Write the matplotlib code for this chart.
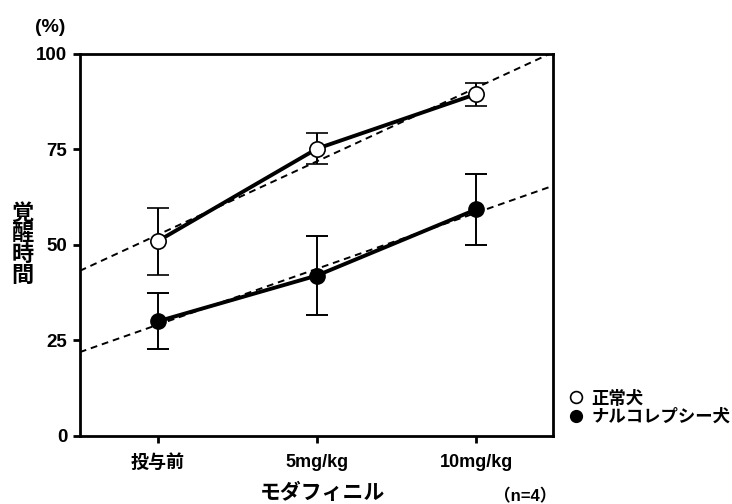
import numpy as np
import matplotlib
matplotlib.use("Agg")
import matplotlib.pyplot as plt
from matplotlib.lines import Line2D

plt.rcParams['font.family'] = ['Liberation Sans', 'Noto Sans CJK JP']
plt.rcParams['font.weight'] = 'bold'

# dose groups (modafinil)
doses = ['投与前', '5mg/kg', '10mg/kg']
x = np.arange(len(doses))

# wake time (%) mean and error per group
normal_mean = [51.0, 75.2, 89.5]
normal_err = [8.8, 4.0, 3.0]
narco_mean = [30.0, 42.0, 59.3]
narco_err = [7.3, 10.3, 9.2]

fig = plt.figure(figsize=(7.32, 5.04), dpi=100)
ax = fig.add_axes([0.109, 0.135, 0.646, 0.758])

xmin, xmax = -0.49, 2.48
xx = np.array([xmin, xmax])

# least squares trend lines
for ys in (normal_mean, narco_mean):
    m, c = np.polyfit(x, ys, 1)
    ax.plot(xx, m * xx + c, color='black', lw=1.4, ls=(0, (3.5, 2.5)), zorder=2)

ax.errorbar(x, normal_mean, yerr=normal_err, color='black', lw=2.8,
            elinewidth=1.4, capsize=8, capthick=1.4, marker='o', ms=11,
            mfc='white', mec='black', mew=1.2, zorder=3)
ax.errorbar(x, narco_mean, yerr=narco_err, color='black', lw=2.8,
            elinewidth=1.4, capsize=8, capthick=1.4, marker='o', ms=11,
            mfc='black', mec='black', zorder=3)

ax.set_xlim(xmin, xmax)
ax.set_ylim(0, 100)
ax.set_yticks([0, 25, 50, 75, 100])
ax.set_xticks(x)
ax.set_xticklabels(doses, fontsize=13, fontweight='bold')
for t in ax.get_yticklabels():
    t.set_fontsize(13.5)
    t.set_fontweight('bold')
for s in ax.spines.values():
    s.set_linewidth(2)
ax.tick_params(direction='out', length=5, width=2, pad=4)
ax.tick_params(axis='x', pad=8)

fig.text(0.068, 0.946, '(%)', fontsize=14, fontweight='bold', ha='center', va='center')
fig.text(0.031, 0.513, '覚\n醒\n時\n間', fontsize=16, fontweight='bold',
         ha='center', va='center', linespacing=1.0)
fig.text(0.44, 0.022, 'モダフィニル', fontsize=15, fontweight='bold', ha='center', va='center')
fig.text(0.675, 0.016, '（n=4）', fontsize=12, fontweight='bold', ha='left', va='center')

handles = [Line2D([], [], ls='none', marker='o', ms=8.5, mfc='white', mec='black', mew=1.2),
           Line2D([], [], ls='none', marker='o', ms=8.5, mfc='black', mec='black')]
fig.legend(handles, ['正常犬', 'ナルコレプシー犬'], loc='center left',
           bbox_to_anchor=(0.778, 0.192), frameon=False, handlelength=0.7,
           handletextpad=0.55, labelspacing=0.12, borderaxespad=0, borderpad=0,
           prop={'size': 12.5, 'weight': 'bold'})

fig.savefig('out.png', dpi=100)
